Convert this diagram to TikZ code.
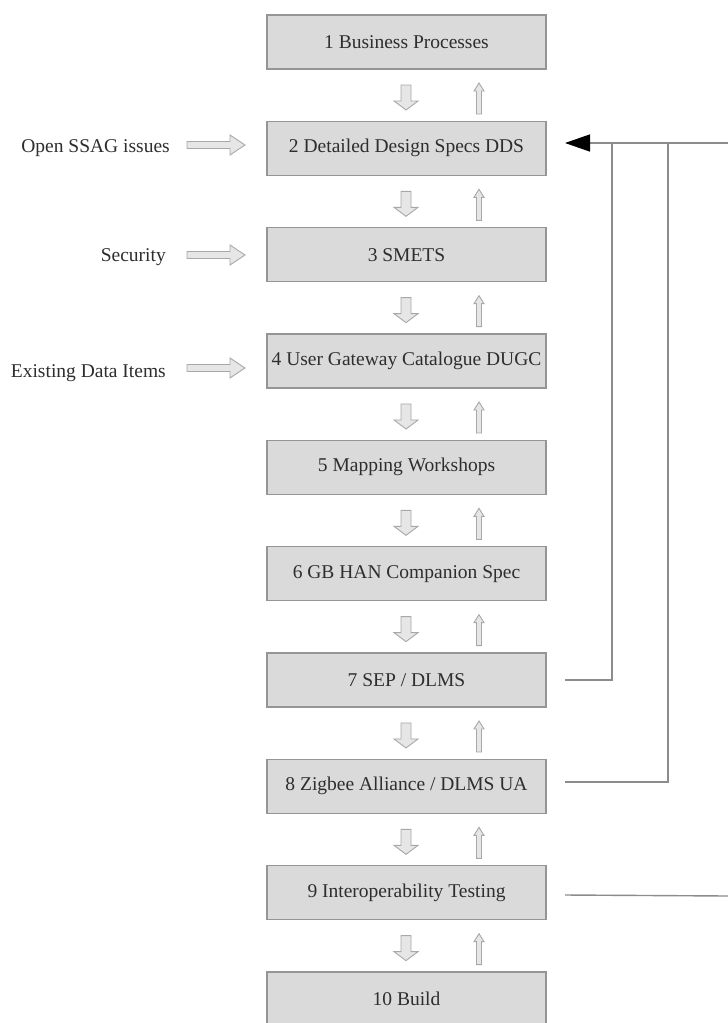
\documentclass[tikz,border=0pt]{standalone}
\usepackage{fontspec}
\setmainfont{Liberation Serif}
\usetikzlibrary{arrows.meta}
\definecolor{boxfill}{HTML}{DADADA}
\definecolor{boxline}{HTML}{959595}
\definecolor{txt}{HTML}{2E2E2E}
\definecolor{arrfill}{HTML}{E6E6E6}
\definecolor{arrline}{HTML}{A8A8A8}
\definecolor{conncol}{HTML}{8C8C8C}
\tikzset{
  stepbox/.style={draw=boxline, line width=1.2pt, fill=boxfill, minimum width=279pt,
    minimum height=54pt, inner sep=0pt, text=txt, font=\fontsize{19.5}{22}\selectfont},
  sidelabel/.style={anchor=east, inner sep=0pt, text=txt, font=\fontsize{19.5}{22}\selectfont},
  blockarrow/.style={draw=arrline, line width=0.9pt, fill=arrfill},
  conn/.style={draw=conncol, line width=1.4pt},
}
\begin{document}
\begin{tikzpicture}[x=1pt,y=-1pt]
\useasboundingbox (0,0) rectangle (728,1023);
\clip (0,0) rectangle (728,1023);
\fill[white] (0,0) rectangle (728,1023);

% boxes
\foreach \i/\t in {1/{1 Business Processes},2/{2 Detailed Design Specs DDS},3/{3 SMETS},
  4/{4 User Gateway Catalogue DUGC},5/{5 Mapping Workshops},6/{6 GB HAN Companion Spec},
  7/{7 SEP / DLMS},8/{8 Zigbee Alliance / DLMS UA},9/{9 Interoperability Testing},10/{10 Build}}{
  \node[stepbox] (b\i) at (406.5,{15+106.33*(\i-1)+27}) {\t};
}

% down / up block arrows between boxes
\foreach \i in {1,...,9}{
  \pgfmathsetmacro{\yb}{15+106.33*(\i-1)+54}
  \pgfmathsetmacro{\yd}{\yb+16}
  \pgfmathsetmacro{\yu}{\yb+14}
  \path[blockarrow] (401,\yd) -- (411,\yd) -- (411,\yd+16) -- (418,\yd+16) -- (406,\yd+25)
     -- (394,\yd+16) -- (401,\yd+16) -- cycle;
  \path[blockarrow] (479,\yu) -- (484,\yu+8) -- (481.5,\yu+8) -- (481.5,\yu+31)
     -- (476.5,\yu+31) -- (476.5,\yu+8) -- (474,\yu+8) -- cycle;
}

% side labels and input arrows
\node[sidelabel] (l2) at (170,148) {Open SSAG issues};
\node[sidelabel] (l3) at (166,257) {Security};
\node[sidelabel] (l4) at (166,373) {Existing Data Items};
\foreach \y in {145,255,368}{
  \path[blockarrow] (187,\y-3.5) -- (230,\y-3.5) -- (230,\y-10) -- (245,\y) -- (230,\y+10)
     -- (230,\y+3.5) -- (187,\y+3.5) -- cycle;
}

% feedback connectors
\coordinate (tr) at (728,143);
\coordinate (tip) at (565,143);
\coordinate (v7) at (612,143);
\coordinate (v8) at (668,143);
\coordinate (s7) at (565,680);
\coordinate (s8) at (565,782);
\coordinate (s9) at (565,895);
\coordinate (e9) at (728,896);
\draw[conn, -{Triangle[length=25pt,width=17pt]}, arrows={[color=black]}] (tr) -- (tip);
\draw[conn] (s7) -- (s7 -| v7) -- (v7);
\draw[conn] (s8) -- (s8 -| v8) -- (v8);
\draw[conn] (s9) -- (e9);
\end{tikzpicture}
\end{document}
